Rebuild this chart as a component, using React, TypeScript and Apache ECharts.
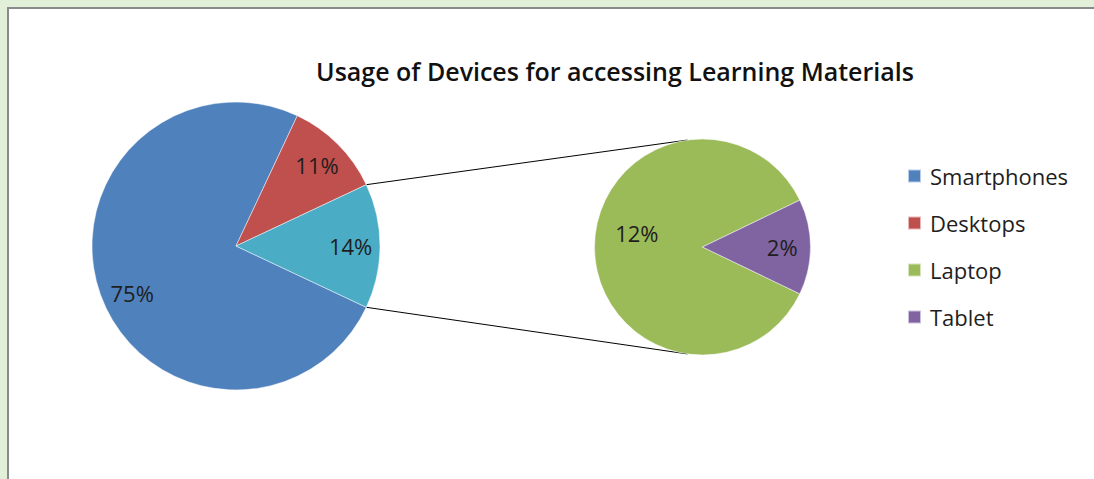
import React, { useEffect, useRef } from "react";
import * as echarts from "echarts";

const TITLE = "Usage of Devices for accessing Learning Materials";
const MAIN_CATEGORIES = ["Smartphones", "Desktops", "Other"];
const MAIN_VALUES = [75, 11, 14];
const SUB_CATEGORIES = ["Laptop", "Tablet"];
const SUB_VALUES = [12, 2];
const LEGEND_ITEMS = ["Smartphones", "Desktops", "Laptop", "Tablet"];
const MAIN_COLORS = ["#4F81BD", "#C0504D", "#4BACC6"];
const SUB_COLORS = ["#9BBB59", "#8064A2"];

const W = 1094;
const H = 479;
const C1: [number, number] = [236, 246];
const R1 = 144;
const C2: [number, number] = [702.5, 247];
const R2 = 108;
const FONT = "'Open Sans', Lato, sans-serif";

export default function App() {
  const ref = useRef<HTMLDivElement>(null);
  useEffect(() => {
    document.body.style.margin = "0";
    document.body.style.overflow = "hidden";
    if (!ref.current) return;
    const chart = echarts.init(ref.current, null, { renderer: "svg" });

    const sumMain = MAIN_VALUES.reduce((a, b) => a + b, 0);
    const sumSub = SUB_VALUES.reduce((a, b) => a + b, 0);
    const halfOther = ((MAIN_VALUES[2] / sumMain) * 360) / 2;
    const halfTablet = ((SUB_VALUES[1] / sumSub) * 360) / 2;
    const start1 = 360 - halfOther;
    const start2 = 360 - halfTablet;

    const mainData = MAIN_CATEGORIES.map((n, i) => ({
      name: n,
      value: MAIN_VALUES[i],
      itemStyle: { color: MAIN_COLORS[i] },
    }));
    const subData = SUB_CATEGORIES.map((n, i) => ({
      name: n,
      value: SUB_VALUES[i],
      itemStyle: { color: SUB_COLORS[i] },
    }));

    const rad = (d: number) => (d * Math.PI) / 180;
    const pt = (c: [number, number], r: number, a: number) => [
      c[0] + r * Math.cos(rad(a)),
      c[1] - r * Math.sin(rad(a)),
    ];
    const a1 = pt(C1, R1, halfOther);
    const a2 = pt(C1, R1, -halfOther);
    const b1 = pt(C2, R2, 98);
    const b2 = pt(C2, R2, -98);

    const labelStyle = {
      show: true,
      position: "inside" as const,
      formatter: "{c}%",
      fontFamily: FONT,
      fontSize: 22,
      color: "#1e1e1e",
    };

    const basePie = {
      type: "pie" as const,
      animation: false,
      avoidLabelOverlap: false,
      clockwise: true,
      labelLine: { show: false },
      emphasis: { disabled: true },
    };

    chart.setOption({
      animation: false,
      backgroundColor: "#e2efd9",
      title: {
        text: TITLE,
        left: 610,
        top: 53,
        textAlign: "center",
        textStyle: {
          fontFamily: FONT,
          fontSize: 25,
          fontWeight: 600,
          color: "#111",
        },
      },
      legend: {
        data: LEGEND_ITEMS,
        orient: "vertical",
        left: 902,
        top: 160,
        icon: "rect",
        itemWidth: 13,
        itemHeight: 13,
        itemGap: 25,
        selectedMode: false,
        textStyle: { fontFamily: FONT, fontSize: 22, color: "#1e1e1e", padding: [0, 0, 0, 4] },
      },
      graphic: [
        {
          type: "rect",
          z: -10,
          silent: true,
          shape: { x: 8, y: 8, width: W, height: H },
          style: { fill: "#ffffff" },
        },
        {
          type: "line",
          z: -9,
          silent: true,
          shape: { x1: 7, y1: 8, x2: W, y2: 8 },
          style: { stroke: "#8a8a8a", lineWidth: 2 },
        },
        {
          type: "line",
          z: -9,
          silent: true,
          shape: { x1: 8, y1: 7, x2: 8, y2: H },
          style: { stroke: "#8a8a8a", lineWidth: 2 },
        },
        {
          type: "line",
          silent: true,
          shape: { x1: a1[0], y1: a1[1], x2: b1[0], y2: b1[1] },
          style: { stroke: "#000", lineWidth: 1 },
        },
        {
          type: "line",
          silent: true,
          shape: { x1: a2[0], y1: a2[1], x2: b2[0], y2: b2[1] },
          style: { stroke: "#000", lineWidth: 1 },
        },
      ],
      series: [
        {
          ...basePie,
          name: "Main",
          center: C1,
          radius: [0, R1],
          startAngle: start1,
          data: mainData,
          label: { show: false },
          itemStyle: { borderColor: "rgba(255,255,255,0.6)", borderWidth: 0.8 },
        },
        {
          ...basePie,
          name: "Sub",
          center: C2,
          radius: [0, R2],
          startAngle: start2,
          data: subData,
          label: { show: false },
          itemStyle: { borderColor: "rgba(255,255,255,0.6)", borderWidth: 0.8 },
        },
        {
          ...basePie,
          name: "MainLabels",
          silent: true,
          center: C1,
          radius: [R1 * 0.55, R1],
          startAngle: start1,
          data: mainData.map((d, i) => ({
            ...d,
            itemStyle: { color: "rgba(0,0,0,0)" },
            label: i === 0 ? { offset: [4, 8] } : {},
          })),
          label: labelStyle,
        },
        {
          ...basePie,
          name: "SubLabels",
          silent: true,
          center: C2,
          radius: [R2 * 0.42, R2],
          startAngle: start2,
          data: subData.map((d, i) => ({
            ...d,
            itemStyle: { color: "rgba(0,0,0,0)" },
            label: i === 0 ? { offset: [14, -14] } : {},
          })),
          label: labelStyle,
        },
      ],
    });
    return () => chart.dispose();
  }, []);
  return <div ref={ref} style={{ width: W, height: H }} />;
}
